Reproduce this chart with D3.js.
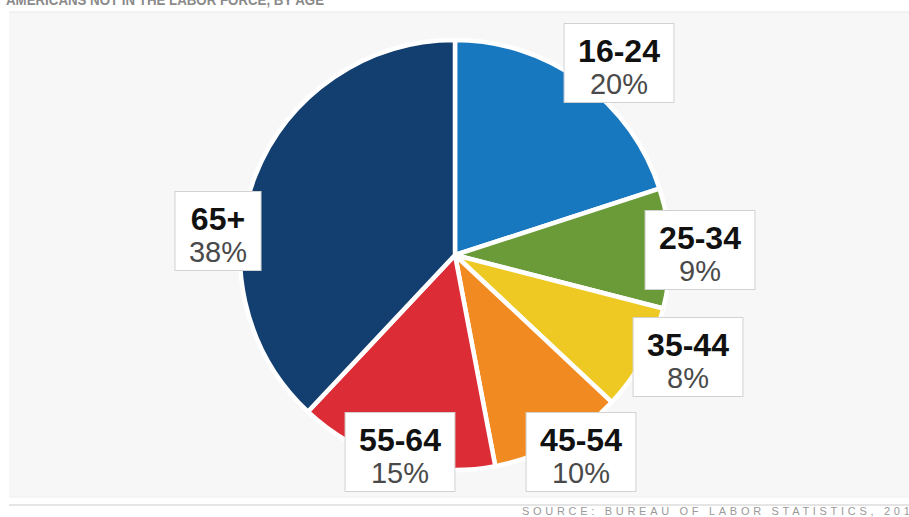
<!DOCTYPE html>
<html>
<head>
<meta charset="utf-8">
<script src="https://cdn.jsdelivr.net/npm/d3@7"></script>
<style>
  body { margin: 0; background: #fff; }
  svg { display: block; font-family: "Liberation Sans", Arial, sans-serif; }
</style>
</head>
<body>
<svg id="chart" width="909" height="517"></svg>
<script>
// age groups, clockwise from 12 o'clock
const ageGroups = ["16-24", "25-34", "35-44", "45-54", "55-64", "65+"];
const shares = [20, 9, 8, 10, 15, 38];
const sliceColors = ["#1878bf", "#6b9b38", "#efc923", "#f28a22", "#dc2c36", "#133f70"];

// where each label box sits (layout, not data)
const labelCenters = [[619, 63], [700, 250], [688, 357], [581, 452], [400, 452], [218, 231]];

const svg = d3.select("#chart");
const W = 909, H = 517;
const cx = 455, cy = 255, radius = 215;

// title, mostly cut off at top of the picture (as in the original)
svg.append("text")
  .attr("x", 6).attr("y", 5)
  .attr("fill", "#8a8a8a")
  .attr("font-size", 15)
  .attr("font-weight", "bold")
  .attr("textLength", 318)
  .attr("lengthAdjust", "spacingAndGlyphs")
  .text("AMERICANS NOT IN THE LABOR FORCE, BY AGE");

// grey panel
svg.append("rect")
  .attr("x", 9).attr("y", 12)
  .attr("width", W - 9).attr("height", 485)
  .attr("fill", "#f7f7f7");
svg.append("line")
  .attr("x1", 9).attr("x2", W).attr("y1", 12).attr("y2", 12)
  .attr("stroke", "#e8e8e8");
svg.append("line")
  .attr("x1", 9).attr("x2", W).attr("y1", 497).attr("y2", 497)
  .attr("stroke", "#eeeeee");
svg.append("line")
  .attr("x1", 9).attr("x2", W).attr("y1", 505).attr("y2", 505)
  .attr("stroke", "#dcdcdc").attr("stroke-width", 1.5);

const pie = d3.pie().sort(null).value(d => d);
const arcs = pie(shares);
const arc = d3.arc().innerRadius(0).outerRadius(radius);

const g = svg.append("g").attr("transform", `translate(${cx},${cy})`);
g.selectAll("path")
  .data(arcs)
  .enter()
  .append("path")
  .attr("d", arc)
  .attr("fill", (d, i) => sliceColors[i])
  .attr("stroke", "#fff")
  .attr("stroke-width", 4.5)
  .attr("stroke-linejoin", "miter");

// label boxes
const labels = svg.selectAll("g.lbl")
  .data(arcs)
  .enter()
  .append("g")
  .attr("class", "lbl")
  .attr("transform", (d, i) => `translate(${labelCenters[i][0]},${labelCenters[i][1]})`);

labels.append("rect")
  .attr("fill", "#fff")
  .attr("stroke", "#d2d2d2")
  .attr("stroke-width", 1);

labels.append("text")
  .attr("class", "name")
  .attr("text-anchor", "middle")
  .attr("y", -1)
  .attr("font-size", 32)
  .attr("font-weight", "bold")
  .attr("fill", "#111")
  .text((d, i) => ageGroups[i]);

labels.append("text")
  .attr("class", "pct")
  .attr("text-anchor", "middle")
  .attr("y", 31)
  .attr("font-size", 29)
  .attr("fill", "#4a4a4a")
  .text(d => d.data + "%");

labels.each(function () {
  const grp = d3.select(this);
  const w = Math.max(grp.select(".name").node().getComputedTextLength(),
                     grp.select(".pct").node().getComputedTextLength()) + 28;
  grp.select("rect")
    .attr("x", -w / 2).attr("y", -39.5)
    .attr("width", w).attr("height", 79);
});

// source line, runs off the right edge like the original
svg.append("text")
  .attr("x", 522).attr("y", 515)
  .attr("fill", "#9a9a9a")
  .attr("font-size", 11)
  .attr("letter-spacing", 3.7)
  .text("SOURCE: BUREAU OF LABOR STATISTICS, 2012");
</script>
</body>
</html>
